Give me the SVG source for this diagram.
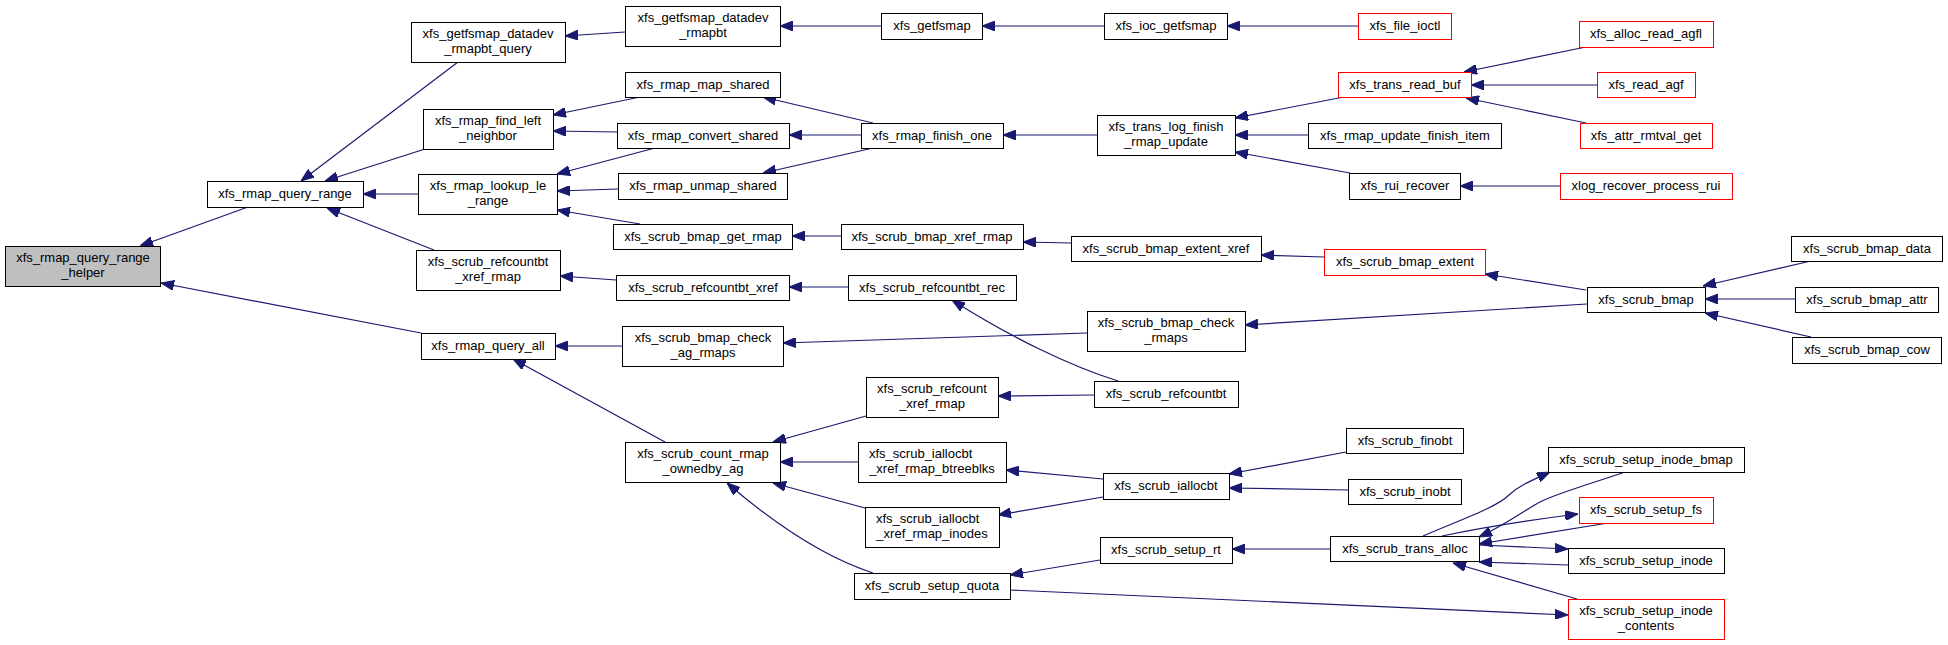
<svg xmlns="http://www.w3.org/2000/svg" width="1948" height="645" viewBox="0 0 1948 645">
<defs>
<style>
.n rect{fill:#fff;stroke:#000;stroke-width:1}
.n.r rect{stroke:#f00}
.n.h rect{fill:#bfbfbf}
.n text{font-family:"Liberation Sans",Arial,Helvetica,sans-serif;font-size:13px;fill:#000;text-anchor:middle}
.n text.s{text-anchor:start}
#edges path{fill:none;stroke:#191970;stroke-width:1.2;marker-end:url(#ah)}
</style>
<marker id="ah" markerUnits="userSpaceOnUse" markerWidth="13" markerHeight="10" refX="13" refY="5" orient="auto" viewBox="0 0 13 10"><path d="M0,0L13,5L0,10z" fill="#191970" stroke="#191970" stroke-width="1"/></marker>
</defs>
<rect width="1948" height="645" fill="#fff"/>
<g id="edges">
<path d="M248,207L140,246"/>
<path d="M421,333L161,283"/>
<path d="M458,62L301,181"/>
<path d="M425,149L325,181"/>
<path d="M418,194L363,194"/>
<path d="M434,250L327,208"/>
<path d="M625,32L565,36"/>
<path d="M881,26L780,26"/>
<path d="M1104,26L982,26"/>
<path d="M1358,26L1227,26"/>
<path d="M640,97L553,115"/>
<path d="M617,132L553,131"/>
<path d="M655,148L557,174"/>
<path d="M618,189L557,191"/>
<path d="M640,224L557,210"/>
<path d="M616,280L560,276"/>
<path d="M873,123L763,97"/>
<path d="M861,135L789,135"/>
<path d="M873,148L763,173"/>
<path d="M841,236L792,236"/>
<path d="M848,287L789,287"/>
<path d="M1097,135L1003,135"/>
<path d="M1071,243L1023,242"/>
<path d="M1344,97L1235,118"/>
<path d="M1308,135L1235,135"/>
<path d="M1350,173L1235,152"/>
<path d="M1586,47L1464,72"/>
<path d="M1597,85L1471,85"/>
<path d="M1586,123L1466,98"/>
<path d="M1560,186L1460,186"/>
<path d="M1324,257L1261,255"/>
<path d="M1586,290L1485,274"/>
<path d="M1811,261L1703,286"/>
<path d="M1795,299L1705,299"/>
<path d="M1811,337L1705,313"/>
<path d="M1587,304L1245,325"/>
<path d="M1118,381C1070,366 1010,337 952,300"/>
<path d="M622,346L555,346"/>
<path d="M1087,333L783,343"/>
<path d="M665,442L513,359"/>
<path d="M866,416L773,442"/>
<path d="M858,462L780,462"/>
<path d="M865,508L773,483"/>
<path d="M873,573C820,556 770,520 727,483"/>
<path d="M1094,395L998,396"/>
<path d="M1103,479L1006,470"/>
<path d="M1103,497L998,515"/>
<path d="M1346,452L1229,474"/>
<path d="M1348,490L1229,488"/>
<path d="M1100,560L1010,575"/>
<path d="M1330,549L1232,549"/>
<path d="M1010,590L1568,615"/>
<path d="M1423,536C1465,518 1497,507 1509,495C1519,486 1528,482 1550,472"/>
<path d="M1625,472C1590,484 1555,494 1540,502C1525,510 1505,525 1479,537"/>
<path d="M1442,536C1480,528 1530,520 1578,514"/>
<path d="M1608,523L1479,544"/>
<path d="M1479,545L1568,549"/>
<path d="M1568,565L1479,562"/>
<path d="M1577,599L1453,563"/>
</g>
<g id="helper" class="n h"><rect x="5.5" y="246.5" width="155" height="40"/><text x="83" y="262">xfs_rmap_query_range</text><text x="83" y="277">_helper</text></g>
<g id="query_range" class="n"><rect x="207.5" y="181.5" width="156" height="26"/><text x="285" y="198">xfs_rmap_query_range</text></g>
<g id="getfsmap_datadev_rmapbt_query" class="n"><rect x="411.5" y="22.5" width="154" height="40"/><text x="488" y="38">xfs_getfsmap_datadev</text><text x="488" y="53">_rmapbt_query</text></g>
<g id="find_left_neighbor" class="n"><rect x="423.5" y="109.5" width="130" height="40"/><text x="488" y="125">xfs_rmap_find_left</text><text x="488" y="140">_neighbor</text></g>
<g id="lookup_le_range" class="n"><rect x="418.5" y="174.5" width="139" height="40"/><text x="488" y="190">xfs_rmap_lookup_le</text><text x="488" y="205">_range</text></g>
<g id="refcountbt_xref_rmap" class="n"><rect x="416.5" y="250.5" width="144" height="40"/><text x="488" y="266">xfs_scrub_refcountbt</text><text x="488" y="281">_xref_rmap</text></g>
<g id="rmap_query_all" class="n"><rect x="421.5" y="333.5" width="134" height="26"/><text x="488" y="350">xfs_rmap_query_all</text></g>
<g id="getfsmap_datadev_rmapbt" class="n"><rect x="625.5" y="6.5" width="155" height="40"/><text x="703" y="22">xfs_getfsmap_datadev</text><text x="703" y="37">_rmapbt</text></g>
<g id="rmap_map_shared" class="n"><rect x="625.5" y="72.5" width="155" height="25"/><text x="703" y="89">xfs_rmap_map_shared</text></g>
<g id="rmap_convert_shared" class="n"><rect x="617.5" y="123.5" width="172" height="25"/><text x="703" y="140">xfs_rmap_convert_shared</text></g>
<g id="rmap_unmap_shared" class="n"><rect x="618.5" y="173.5" width="169" height="26"/><text x="703" y="190">xfs_rmap_unmap_shared</text></g>
<g id="scrub_bmap_get_rmap" class="n"><rect x="613.5" y="224.5" width="179" height="25"/><text x="703" y="241">xfs_scrub_bmap_get_rmap</text></g>
<g id="scrub_refcountbt_xref" class="n"><rect x="616.5" y="275.5" width="173" height="25"/><text x="703" y="292">xfs_scrub_refcountbt_xref</text></g>
<g id="scrub_bmap_check_ag_rmaps" class="n"><rect x="622.5" y="326.5" width="161" height="40"/><text x="703" y="342">xfs_scrub_bmap_check</text><text x="703" y="357">_ag_rmaps</text></g>
<g id="scrub_count_rmap_ownedby_ag" class="n"><rect x="625.5" y="442.5" width="155" height="40"/><text x="703" y="458">xfs_scrub_count_rmap</text><text x="703" y="473">_ownedby_ag</text></g>
<g id="getfsmap" class="n"><rect x="881.5" y="13.5" width="101" height="26"/><text x="932" y="30">xfs_getfsmap</text></g>
<g id="rmap_finish_one" class="n"><rect x="861.5" y="123.5" width="142" height="25"/><text x="932" y="140">xfs_rmap_finish_one</text></g>
<g id="scrub_bmap_xref_rmap" class="n"><rect x="841.5" y="224.5" width="182" height="25"/><text x="932" y="241">xfs_scrub_bmap_xref_rmap</text></g>
<g id="scrub_refcountbt_rec" class="n"><rect x="848.5" y="275.5" width="168" height="25"/><text x="932" y="292">xfs_scrub_refcountbt_rec</text></g>
<g id="scrub_refcount_xref_rmap" class="n"><rect x="866.5" y="377.5" width="132" height="40"/><text x="932" y="393">xfs_scrub_refcount</text><text x="932" y="408">_xref_rmap</text></g>
<g id="scrub_iallocbt_xref_rmap_btreeblks" class="n"><rect x="858.5" y="442.5" width="148" height="40"/><text class="s" x="869" y="458">xfs_scrub_iallocbt</text><text x="932" y="473">_xref_rmap_btreeblks</text></g>
<g id="scrub_iallocbt_xref_rmap_inodes" class="n"><rect x="865.5" y="507.5" width="134" height="40"/><text class="s" x="876" y="523">xfs_scrub_iallocbt</text><text x="932" y="538">_xref_rmap_inodes</text></g>
<g id="scrub_setup_quota" class="n"><rect x="854.5" y="573.5" width="156" height="26"/><text x="932" y="590">xfs_scrub_setup_quota</text></g>
<g id="ioc_getfsmap" class="n"><rect x="1104.5" y="13.5" width="123" height="26"/><text x="1166" y="30">xfs_ioc_getfsmap</text></g>
<g id="trans_log_finish_rmap_update" class="n"><rect x="1097.5" y="115.5" width="138" height="40"/><text x="1166" y="131">xfs_trans_log_finish</text><text x="1166" y="146">_rmap_update</text></g>
<g id="scrub_bmap_extent_xref" class="n"><rect x="1071.5" y="236.5" width="190" height="25"/><text x="1166" y="253">xfs_scrub_bmap_extent_xref</text></g>
<g id="scrub_bmap_check_rmaps" class="n"><rect x="1087.5" y="311.5" width="158" height="40"/><text x="1166" y="327">xfs_scrub_bmap_check</text><text x="1166" y="342">_rmaps</text></g>
<g id="scrub_refcountbt" class="n"><rect x="1094.5" y="381.5" width="144" height="26"/><text x="1166" y="398">xfs_scrub_refcountbt</text></g>
<g id="scrub_iallocbt" class="n"><rect x="1103.5" y="473.5" width="126" height="26"/><text x="1166" y="490">xfs_scrub_iallocbt</text></g>
<g id="scrub_setup_rt" class="n"><rect x="1100.5" y="537.5" width="132" height="26"/><text x="1166" y="554">xfs_scrub_setup_rt</text></g>
<g id="file_ioctl" class="n r"><rect x="1358.5" y="13.5" width="93" height="26"/><text x="1405" y="30">xfs_file_ioctl</text></g>
<g id="trans_read_buf" class="n r"><rect x="1338.5" y="72.5" width="133" height="25"/><text x="1405" y="89">xfs_trans_read_buf</text></g>
<g id="rmap_update_finish_item" class="n"><rect x="1308.5" y="123.5" width="193" height="25"/><text x="1405" y="140">xfs_rmap_update_finish_item</text></g>
<g id="rui_recover" class="n"><rect x="1349.5" y="173.5" width="111" height="26"/><text x="1405" y="190">xfs_rui_recover</text></g>
<g id="scrub_bmap_extent" class="n r"><rect x="1324.5" y="249.5" width="161" height="26"/><text x="1405" y="266">xfs_scrub_bmap_extent</text></g>
<g id="scrub_finobt" class="n"><rect x="1346.5" y="428.5" width="117" height="25"/><text x="1405" y="445">xfs_scrub_finobt</text></g>
<g id="scrub_inobt" class="n"><rect x="1348.5" y="479.5" width="113" height="25"/><text x="1405" y="496">xfs_scrub_inobt</text></g>
<g id="scrub_trans_alloc" class="n"><rect x="1330.5" y="536.5" width="149" height="25"/><text x="1405" y="553">xfs_scrub_trans_alloc</text></g>
<g id="alloc_read_agfl" class="n r"><rect x="1579.5" y="21.5" width="134" height="26"/><text x="1646" y="38">xfs_alloc_read_agfl</text></g>
<g id="read_agf" class="n r"><rect x="1597.5" y="72.5" width="98" height="25"/><text x="1646" y="89">xfs_read_agf</text></g>
<g id="attr_rmtval_get" class="n r"><rect x="1580.5" y="123.5" width="132" height="25"/><text x="1646" y="140">xfs_attr_rmtval_get</text></g>
<g id="xlog_recover_process_rui" class="n r"><rect x="1560.5" y="173.5" width="172" height="26"/><text x="1646" y="190">xlog_recover_process_rui</text></g>
<g id="scrub_bmap" class="n"><rect x="1587.5" y="287.5" width="118" height="25"/><text x="1646" y="304">xfs_scrub_bmap</text></g>
<g id="scrub_setup_inode_bmap" class="n"><rect x="1548.5" y="447.5" width="196" height="25"/><text x="1646" y="464">xfs_scrub_setup_inode_bmap</text></g>
<g id="scrub_setup_fs" class="n r"><rect x="1579.5" y="497.5" width="134" height="26"/><text x="1646" y="514">xfs_scrub_setup_fs</text></g>
<g id="scrub_setup_inode" class="n"><rect x="1568.5" y="548.5" width="156" height="25"/><text x="1646" y="565">xfs_scrub_setup_inode</text></g>
<g id="scrub_setup_inode_contents" class="n r"><rect x="1568.5" y="599.5" width="156" height="40"/><text x="1646" y="615">xfs_scrub_setup_inode</text><text x="1646" y="630">_contents</text></g>
<g id="scrub_bmap_data" class="n"><rect x="1791.5" y="236.5" width="151" height="25"/><text x="1867" y="253">xfs_scrub_bmap_data</text></g>
<g id="scrub_bmap_attr" class="n"><rect x="1795.5" y="287.5" width="143" height="25"/><text x="1867" y="304">xfs_scrub_bmap_attr</text></g>
<g id="scrub_bmap_cow" class="n"><rect x="1792.5" y="337.5" width="149" height="26"/><text x="1867" y="354">xfs_scrub_bmap_cow</text></g>
</svg>
